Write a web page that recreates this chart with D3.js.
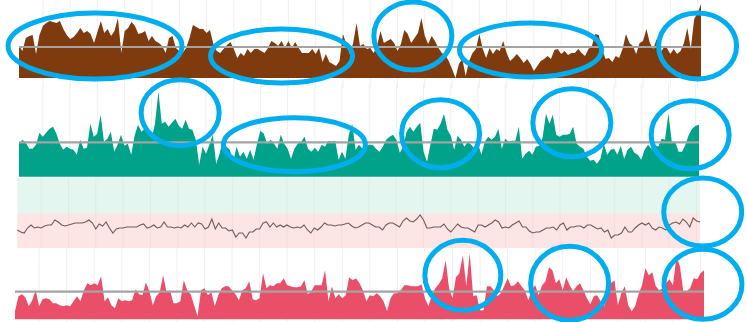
<!DOCTYPE html>
<html>
<head>
<meta charset="utf-8">
<script src="https://cdn.jsdelivr.net/npm/d3@7"></script>
<style>
  body { margin: 0; background: #fff; }
  svg { display: block; }
</style>
</head>
<body>
<div id="chart"></div>
<script>
// valores (um ponto por passo no eixo x)
const brownValues = [
  32,27,40,42,43,24,43,52,55,57, 56,55,57,49,43,39,41,45,50,45,
  47,44,35,46,57,45,49,42,47,60, 25,47,50,56,52,44,45,47,37,42,
  37,35,32,25,40,42,30,27,25,30, 40,53,51,49,49,45,48,34,27,25,
  29,33,36,29,20,25,22,29,
  25,29,29,27,25,30,37,35,32,37, 30,37,30,36,30,25,25,25,29,24,
  30,16,24,16,14,12,17,44,34,24, 35,55,32,34,29,30,25,32,47,35,
  37,39,35,27,34,48,44,35,40,45, 60,42,34,42,37,30,25,23,17,9,
  0,14,19,2,17,25,29,44,29,20, 30,24,29,
  27,37,25,17,20,24,20,15,19,14, 7,12,17,19,22,19,28,29,24,27,
  23,25,25,29,25,22,29,32,44,43, 29,19,20,16,22,20,29,44,35,32,
  24,35,37,49,35,29,39,25,30,30, 24,29,24,27,35,50,29,59,65,74
];
const tealValues = [
  33,37,34,28,28,32,44,40,44,48, 50,43,33,27,30,28,27,22,37,28,
  29,53,40,43,62,35,38,45,25,32, 42,31,33,22,41,52,45,48,47,38,
  53,85,53,55,50,54,58,51,48,57, 48,47,37,12,30,23,32,42,13,23,
  37,30,27,15,30,20,25,18,
  27,17,33,46,43,33,37,33,28,42, 33,28,18,28,33,35,40,28,25,29,
  25,32,30,36,35,36,17,25,18,42, 53,27,32,28,30,32,32,28,25,30,
  37,40,42,37,24,30,45,50,45,50, 54,25,15,32,48,47,53,63,47,41,
  27,41,37,30,35,32,28,33,22,35, 40,37,40,
  48,28,38,35,36,36,50,18,23,26, 22,30,31,39,63,53,62,42,40,42,
  42,43,50,33,30,28,20,16,17,13, 18,33,22,27,28,22,31,18,27,30,
  24,22,17,27,32,28,32,30,38,37, 63,35,35,25,25,32,42,48,51,52
];
const lineValues = [
  18,16,15,20,23,20,21,20,22,23, 23,28,26,23,22,23,24,25,25,25,
  26,28,25,19,24,22,26,20,15,19, 20,20,21,21,21,21,23,24,20,21,
  23,20,21,26,21,21,20,21,20,23, 21,25,21,25,24,19,21,29,19,25,
  20,20,17,18,11,15,15,10,16,16, 19,19,25,26,21,25,21,23,21,23,
  21,20,21,20,23,18,15,20,18,21, 25,23,23,22,23,23,24,25,22,20,
  21,23,25,25,
  23,21,21,18,23,25,25,23,21,27, 30,27,26,29,33,28,20,20,21,21,
  21,24,19,16,20,24,21,20,20,18, 16,23,23,21,23,25,28,26,20,21,
  20,23,25,27,21,21,17,15,16,16, 18,20,20,21,18,23,25,18,21,21,
  22,22,20,23,23,21,19,20,16,18, 10,13,13,15,21,16,16,20,23,25,
  23,25,20,18,21,20,18,23,25,26, 24,29,26,21,30,27,26
];
const redValues = [
  8,23,25,22,13,19,29,13,20,21, 20,16,16,14,13,14,13,18,23,18,
  29,36,34,36,34,43,18,22,14,11, 21,18,19,18,19,30,25,24,37,28,
  14,23,27,44,27,29,16,16,18,39, 29,25,14,3,29,31,24,27,13,24,
  31,33,33,29,25,19,29,31,38,
  20,19,21,46,31,34,33,36,36,41, 34,33,32,32,33,39,25,28,34,34,
  34,49,18,33,21,25,21,24,42,39, 41,36,29,18,24,23,26,23,18,8,
  21,26,26,29,34,34,33,33,33,35, 21,13,24,31,35,41,59,31,21,42,
  46,64,33,66,23,24,9,9,33,33, 29,23,
  26,33,41,33,34,38,33,29,19,29, 34,24,34,38,52,49,36,40,29,42,
  34,28,33,36,29,21,15,23,24,18, 13,23,36,39,14,26,33,14,8,13,
  25,34,51,44,47,33,29,31,36,40, 34,63,53,28,28,31,41,40,46,49
];
// linhas de referência (média) de cada área
const baselines = [31, 34.4, 27.6];
// faixas de fundo do painel de linha
const bandRanges = [[35, 70], [0, 35]];
// marcações da grade vertical
const gridTicks = d3.range(7, 201, 8);
// destaques: painel, índice, valor, raios
const highlights = [
  { p: 0, i: 22.3, v: 32, rx: 87, ry: 33 },
  { p: 0, i: 77, v: 22, rx: 71, ry: 27 },
  { p: 0, i: 115.5, v: 42, rx: 39, ry: 34 },
  { p: 0, i: 150, v: 28, rx: 71, ry: 27 },
  { p: 0, i: 199, v: 32, rx: 39, ry: 33 },
  { p: 1, i: 47.4, v: 64, rx: 39, ry: 33 },
  { p: 1, i: 81, v: 32, rx: 71, ry: 27 },
  { p: 1, i: 124, v: 43, rx: 39, ry: 34 },
  { p: 1, i: 162.6, v: 54, rx: 39, ry: 34 },
  { p: 1, i: 197.4, v: 42, rx: 39, ry: 34 },
  { p: 3, i: 200.8, v: 36, rx: 39, ry: 34 },
  { p: 2, i: 130, v: 44, rx: 38, ry: 35 },
  { p: 2, i: 161, v: 36, rx: 39, ry: 37 },
  { p: 2, i: 199.7, v: 35, rx: 39, ry: 35 }
];

const largura = 747, altura = 322;

const svg = d3.select("#chart").append("svg")
  .attr("width", largura)
  .attr("height", altura);

// configuração de cada painel de área
const paineis = [
  { values: brownValues, cor: "#7f3a0d", x: [19, 701], y: [78, 3], max: 75, grid: [0, 88] },
  { values: tealValues, cor: "#00a389", x: [19, 699], y: [176.7, 86.7], max: 90, grid: [84, 177] },
  { values: redValues, cor: "#e94f69", x: [15, 704], y: [319.3, 249.3], max: 70, grid: [248, 322] }
];

const escalas = [];

paineis.forEach((p, k) => {
  const x = d3.scaleLinear().domain([0, p.values.length - 1]).range(p.x);
  const y = d3.scaleLinear().domain([0, p.max]).range(p.y);
  escalas[k] = { x, y };

  // grade vertical
  svg.append("g").selectAll("line")
    .data(gridTicks)
    .enter().append("line")
    .attr("x1", d => x(d)).attr("x2", d => x(d))
    .attr("y1", p.grid[0]).attr("y2", p.grid[1])
    .attr("stroke", "#efefef")
    .attr("stroke-width", 1);

  const area = d3.area()
    .x((d, i) => x(i))
    .y0(y(0))
    .y1(d => y(d));

  svg.append("path")
    .datum(p.values)
    .attr("d", area)
    .attr("fill", p.cor);

  // linha de referência
  svg.append("line")
    .attr("x1", x(0)).attr("x2", x(p.values.length - 1))
    .attr("y1", y(baselines[k])).attr("y2", y(baselines[k]))
    .attr("stroke", "#a3a3a3")
    .attr("stroke-width", 2.2);
});

// painel de linha com faixas
const xl = d3.scaleLinear().domain([0, lineValues.length - 1]).range([17.3, 700]);
const yl = d3.scaleLinear().domain([0, 70]).range([248, 178]);
escalas[3] = { x: xl, y: yl };

svg.append("g").selectAll("rect")
  .data(bandRanges)
  .enter().append("rect")
  .attr("x", xl(0))
  .attr("width", xl(lineValues.length - 1) - xl(0))
  .attr("y", d => yl(d[1]))
  .attr("height", d => yl(d[0]) - yl(d[1]))
  .attr("fill", (d, i) => i === 0 ? "#e3f6f0" : "#fde4e5");

svg.append("g").selectAll("line")
  .data(gridTicks)
  .enter().append("line")
  .attr("x1", d => xl(d)).attr("x2", d => xl(d))
  .attr("y1", yl(70)).attr("y2", yl(0))
  .attr("stroke", "rgba(0,0,0,0.035)");

svg.append("path")
  .datum(lineValues)
  .attr("d", d3.line().x((d, i) => xl(i)).y(d => yl(d)))
  .attr("fill", "none")
  .attr("stroke", "#6e5c5c")
  .attr("stroke-width", 1.1);

// elipses de destaque
svg.append("g").selectAll("ellipse")
  .data(highlights)
  .enter().append("ellipse")
  .attr("cx", d => escalas[d.p].x(d.i))
  .attr("cy", d => escalas[d.p].y(d.v))
  .attr("rx", d => d.rx)
  .attr("ry", d => d.ry)
  .attr("fill", "none")
  .attr("stroke", "#00adee")
  .attr("stroke-width", 5);
</script>
</body>
</html>
